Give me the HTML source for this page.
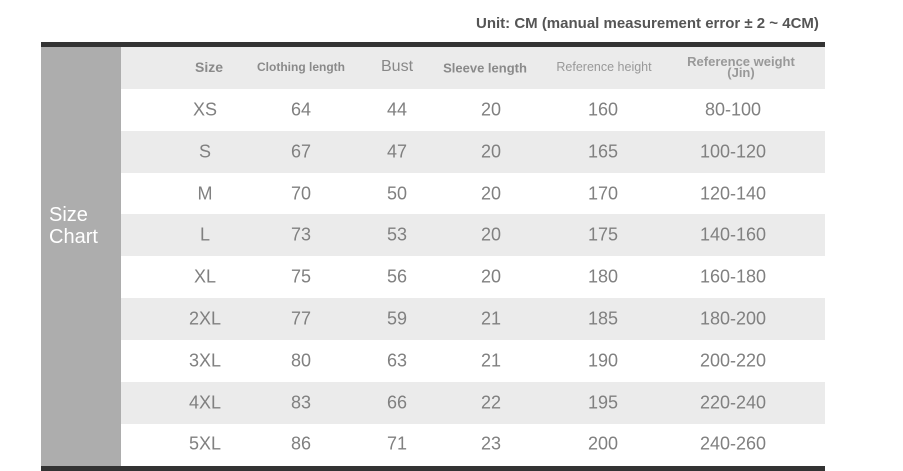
<!DOCTYPE html>
<html><head><style>
body{margin:0;width:903px;height:471px;background:#fff;position:relative;overflow:hidden;font-family:"Liberation Sans",sans-serif;}
.a{position:absolute;}
.t{position:absolute;transform:translate(-50%,-50%);white-space:nowrap;color:#777;}
.h{font-weight:bold;color:#8a8a8a;}
.d{font-size:18px;color:#808080;}
</style></head><body>
<div class="a" style="left:476px;top:15px;font-size:15px;font-weight:bold;color:#555;">Unit: CM (manual measurement error ± 2 ~ 4CM)</div>
<div class="a" style="left:41px;top:42px;width:784px;height:5px;background:#333;"></div>
<div class="a" style="left:41px;top:466px;width:784px;height:5px;background:#333;"></div>
<div class="a" style="left:41px;top:47px;width:80px;height:419px;background:#adadad;"></div>
<div class="a" style="left:49px;top:204px;font-size:20px;color:#fff;line-height:22px;">Size<br>Chart</div>
<div class="a" style="left:121px;top:47px;width:704px;height:42px;background:#ebebeb;"></div>
<div class="a" style="left:121px;top:131px;width:704px;height:42px;background:#ebebeb;"></div>
<div class="a" style="left:121px;top:214px;width:704px;height:42px;background:#ebebeb;"></div>
<div class="a" style="left:121px;top:298px;width:704px;height:42px;background:#ebebeb;"></div>
<div class="a" style="left:121px;top:382px;width:704px;height:42px;background:#ebebeb;"></div>
<div class="t h" style="left:209px;top:67px;font-size:14px;">Size</div>
<div class="t h" style="left:301px;top:67px;font-size:12px;">Clothing length</div>
<div class="t" style="left:397px;top:67px;font-size:16px;color:#888;">Bust</div>
<div class="t h" style="left:485px;top:68px;font-size:13px;">Sleeve length</div>
<div class="t" style="left:604px;top:67px;font-size:12.5px;color:#999;">Reference height</div>
<div class="t h" style="left:741px;top:67px;font-size:13px;color:#999;line-height:11px;text-align:center;">Reference weight<br>(Jin)</div>
<div id="rows"></div>
<script>
var data=[["XS",64,44,20,160,"80-100"],["S",67,47,20,165,"100-120"],["M",70,50,20,170,"120-140"],["L",73,53,20,175,"140-160"],["XL",75,56,20,180,"160-180"],["2XL",77,59,21,185,"180-200"],["3XL",80,63,21,190,"200-220"],["4XL",83,66,22,195,"220-240"],["5XL",86,71,23,200,"240-260"]];
var xs=[205,301,397,491,603,733],h="";
data.forEach(function(r,i){var y=110+i*41.8;r.forEach(function(v,j){h+='<div class="t d" style="left:'+xs[j]+'px;top:'+y+'px">'+v+'</div>';});});
document.getElementById("rows").outerHTML=h;
</script>
</body></html>
